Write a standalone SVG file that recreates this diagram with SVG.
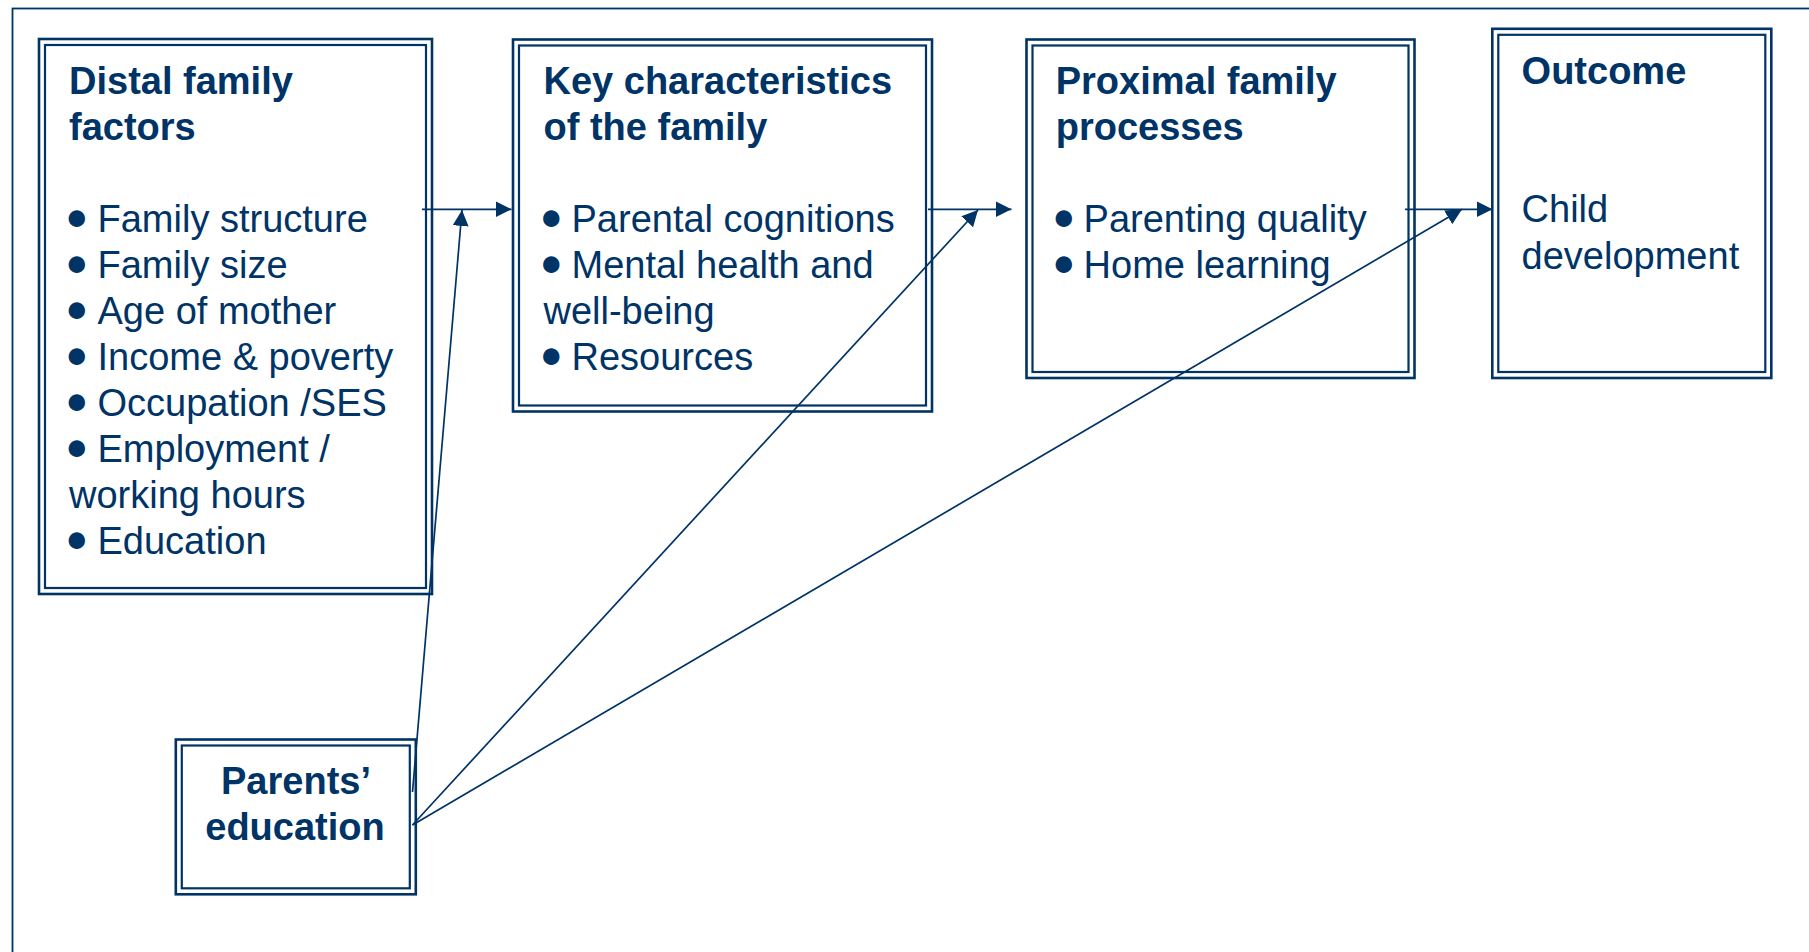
<svg xmlns="http://www.w3.org/2000/svg" width="1809" height="952" viewBox="0 0 1809 952">
  <style>
    .frame { fill: none; stroke: #003366; stroke-width: 1.8; }
    .outer { fill: none; stroke: #003366; stroke-width: 2.6; }
    .inner { fill: none; stroke: #003366; stroke-width: 2.2; }
    .conn { fill: none; stroke: #003366; stroke-width: 1.7; }
    .t { font-family: "Liberation Sans", Arial, sans-serif; font-size: 38px; fill: #003366; }
    .b { font-weight: bold; }
    .bl { font-family: Lato, "Liberation Sans", sans-serif; font-size: 44px; }
  </style>
  <defs>
    <marker id="arrow" markerUnits="userSpaceOnUse" markerWidth="17" markerHeight="17" refX="16" refY="8" orient="auto">
      <path d="M0,0 L16,8 L0,16 z" fill="#003366"/>
    </marker>
  </defs>
  <rect width="1809" height="952" fill="#ffffff"/>
  <rect class="frame" x="12.5" y="8.5" width="1830" height="1000"/>

  <g id="distal">
    <rect class="outer" x="39" y="39" width="393" height="555"/>
    <rect class="inner" x="45" y="45" width="381" height="543"/>
    <text class="t b" x="69" y="94">Distal family</text>
    <text class="t b" x="69" y="140">factors</text>
    <text class="t" x="64" y="232"><tspan class="bl">•</tspan><tspan x="97.5">Family structure</tspan></text>
    <text class="t" x="64" y="278"><tspan class="bl">•</tspan><tspan x="97.5">Family size</tspan></text>
    <text class="t" x="64" y="324"><tspan class="bl">•</tspan><tspan x="97.5">Age of mother</tspan></text>
    <text class="t" x="64" y="370"><tspan class="bl">•</tspan><tspan x="97.5">Income &amp; poverty</tspan></text>
    <text class="t" x="64" y="416"><tspan class="bl">•</tspan><tspan x="97.5">Occupation /SES</tspan></text>
    <text class="t" x="64" y="462"><tspan class="bl">•</tspan><tspan x="97.5">Employment /</tspan></text>
    <text class="t" x="69" y="508">working hours</text>
    <text class="t" x="64" y="554"><tspan class="bl">•</tspan><tspan x="97.5">Education</tspan></text>
  </g>

  <g id="key">
    <rect class="outer" x="513" y="39.5" width="419" height="372"/>
    <rect class="inner" x="519" y="45.5" width="407" height="360"/>
    <text class="t b" x="543.5" y="94">Key characteristics</text>
    <text class="t b" x="543.5" y="140">of the family</text>
    <text class="t" x="538.5" y="232"><tspan class="bl">•</tspan><tspan x="571.5">Parental cognitions</tspan></text>
    <text class="t" x="538.5" y="278"><tspan class="bl">•</tspan><tspan x="571.5">Mental health and</tspan></text>
    <text class="t" x="543.5" y="324">well-being</text>
    <text class="t" x="538.5" y="370"><tspan class="bl">•</tspan><tspan x="571.5">Resources</tspan></text>
  </g>

  <g id="proximal">
    <rect class="outer" x="1026.5" y="39.5" width="388" height="338.5"/>
    <rect class="inner" x="1032.5" y="45.5" width="376" height="326.5"/>
    <text class="t b" x="1055.7" y="94">Proximal family</text>
    <text class="t b" x="1055.7" y="140">processes</text>
    <text class="t" x="1051" y="232"><tspan class="bl">•</tspan><tspan x="1083.6">Parenting quality</tspan></text>
    <text class="t" x="1051" y="278"><tspan class="bl">•</tspan><tspan x="1083.6">Home learning</tspan></text>
  </g>

  <g id="outcome">
    <rect class="outer" x="1492.3" y="28.8" width="279" height="349.2"/>
    <rect class="inner" x="1498.3" y="34.8" width="267" height="337.2"/>
    <text class="t b" x="1521.6" y="83.5">Outcome</text>
    <text class="t" x="1521.6" y="222">Child</text>
    <text class="t" x="1521.6" y="268.5">development</text>
  </g>

  <g id="parents">
    <rect class="outer" x="175.8" y="739.5" width="240" height="154.8"/>
    <rect class="inner" x="181.8" y="745.5" width="228" height="142.8"/>
    <text class="t b" x="296" y="793.5" text-anchor="middle">Parents’</text>
    <text class="t b" x="295" y="840" text-anchor="middle">education</text>
  </g>

  <g id="connectors">
    <line class="conn" x1="422" y1="209.3" x2="511.5" y2="209.3" marker-end="url(#arrow)"/>
    <line class="conn" x1="928" y1="209.3" x2="1011.5" y2="209.3" marker-end="url(#arrow)"/>
    <line class="conn" x1="1405" y1="209.3" x2="1492.5" y2="209.3" marker-end="url(#arrow)"/>
    <line class="conn" x1="412.5" y1="792" x2="462" y2="210" marker-end="url(#arrow)"/>
    <line class="conn" x1="412.5" y1="825" x2="978" y2="210" marker-end="url(#arrow)"/>
    <line class="conn" x1="412.5" y1="825" x2="1462" y2="209.3" marker-end="url(#arrow)"/>
  </g>
</svg>
